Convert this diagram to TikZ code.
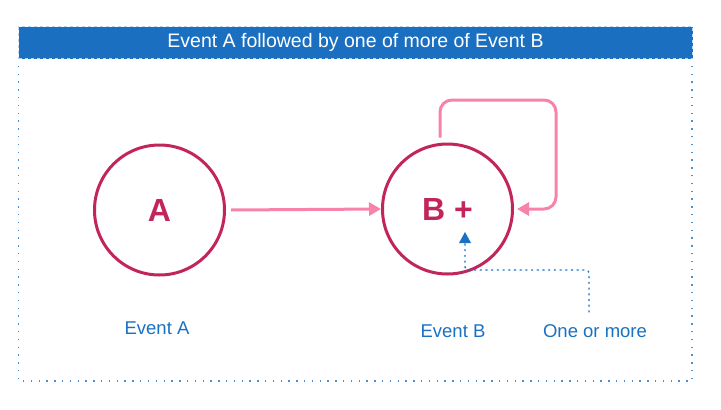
\documentclass[tikz,border=0pt]{standalone}
\usepackage{fontspec}
\setmainfont{Liberation Sans}
\usetikzlibrary{arrows.meta,calc}
\definecolor{hdrblue}{HTML}{1A6FC0}
\definecolor{dotblue}{HTML}{4A8FD6}
\definecolor{txtblue}{HTML}{1971C2}
\definecolor{ringred}{HTML}{C2255C}
\definecolor{pinkarr}{HTML}{F783AC}
\tikzset{
  ring/.style={circle, draw=ringred, line width=3pt, minimum size=130pt, inner sep=0pt, text=ringred, font=\fontsize{32}{36}\selectfont},
  lbl/.style={text=txtblue, font=\fontsize{18.5}{20}\selectfont, inner sep=0pt},
  pinkline/.style={draw=pinkarr, line width=3pt, -{Triangle[length=12pt,width=13pt]}},
  hint/.style={draw=txtblue, line width=1.4pt, dash pattern=on 1.2pt off 4.5pt, line cap=round},
}
\begin{document}
\begin{tikzpicture}[x=1pt,y=-1pt]
\useasboundingbox (0,0) rectangle (721,410);
% outer container
\draw[draw=dotblue, line width=1.6pt, dash pattern=on 1.4pt off 6.4pt] (18.5,58) rectangle (692,381);
% header
\node[fill=hdrblue, draw=white!70!hdrblue, dashed, line width=1pt, minimum width=674pt, minimum height=32pt, inner sep=0pt, anchor=north west, text=white, font=\fontsize{19.5}{21}\selectfont] (hdr) at (18,26) {Event A followed by one of more of Event B};
% circles
\node[ring, font=\fontsize{32}{36}\selectfont\bfseries] (A) at (159.5,210) {A};
\node[ring, font=\fontsize{32}{36}\selectfont\bfseries] (B) at (447.5,209) {B +};
% A -> B
\draw[pinkline] ($(A.east)+(5pt,0)$) -- (B.west);
% loop
\coordinate (lp1) at (440,100);
\coordinate (lp2) at (556,100);
\coordinate (lp3) at (556,209);
\draw[pinkline, rounded corners=12pt] ($(B.north)+(-7.5,-5)$) -- (lp1) -- (lp2) -- (lp3) -- ($(B.east)+(3pt,0)$);
% labels
\node[lbl] (la) at (157,328) {Event A};
\node[lbl] (lb) at (453,331) {Event B};
\node[lbl] (lc) at (595,331) {One or more};
% hint arrow
\coordinate (h1) at (589,312);
\coordinate (h2) at (589,270);
\coordinate (h3) at (465,270);
\coordinate (h4) at (465,232);
\draw[hint, rounded corners=3pt] (h1) -- (h2) -- (h3) -- ($(h4)+(0,10)$);
\fill[txtblue] (h4) -- ++(-6,11) -- ++(12,0) -- cycle;
\end{tikzpicture}
\end{document}
